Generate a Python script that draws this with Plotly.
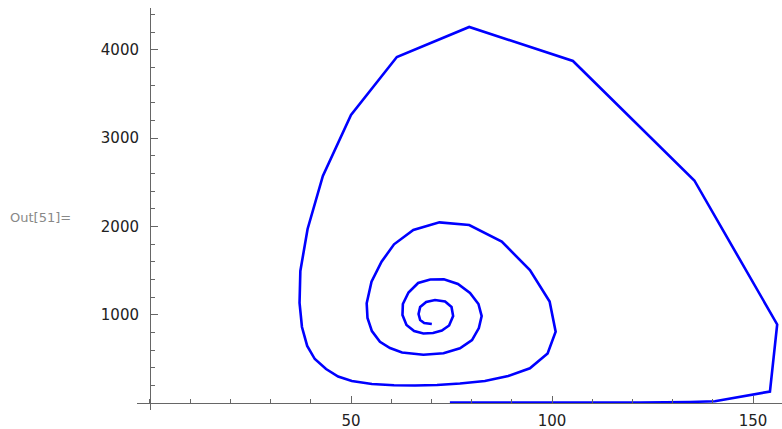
import plotly.graph_objects as go

# Trajectory (prey x, predator y), in drawing order
prey = [74.6, 87.1, 92.0, 107.0, 121.9, 134.3, 140.5, 154.2, 156.0, 135.4,
        105.2, 79.4, 61.4, 50.0, 43.0, 39.2, 37.4, 37.2, 37.8, 39.1,
        41.0, 43.8, 46.8, 50.2, 55.2, 60.7, 65.9, 71.4, 77.1, 83.3,
        89.1, 94.5, 98.9, 100.9, 99.4, 94.5, 87.5, 79.4, 72.0, 65.5,
        60.7, 57.6, 55.1, 53.9, 54.1, 55.2, 57.2, 59.7, 62.7, 68.0,
        73.0, 77.1, 80.1, 81.8, 82.5, 81.7, 79.6, 76.6, 73.1, 69.7,
        66.7, 64.3, 62.9, 62.8, 63.8, 65.7, 68.0, 70.4, 72.6, 74.4,
        75.4, 75.0, 73.4, 70.9, 68.7, 67.2, 66.8, 67.2, 68.2, 70.1]
predator = [5, 4, 4, 4, 6, 12, 20, 130, 890, 2520,
            3873, 4258, 3918, 3262, 2571, 1971, 1495, 1133, 861, 646,
            498, 385, 300, 249, 215, 202, 198, 204, 221, 249,
            306, 393, 561, 807, 1150, 1506, 1827, 2016, 2046, 1959,
            1797, 1600, 1374, 1129, 963, 815, 694, 623, 572, 546,
            563, 619, 713, 849, 985, 1121, 1246, 1348, 1401, 1399,
            1359, 1251, 1121, 997, 883, 815, 787, 793, 821, 878,
            985, 1087, 1149, 1166, 1144, 1087, 1008, 940, 906, 895]

x_ticks = [50, 100, 150]
y_ticks = [1000, 2000, 3000, 4000]

x_range = [-3.23, 157.2]
y_range = [-79, 4473]

fig = go.Figure()
fig.add_trace(go.Scatter(x=prey, y=predator, mode="lines",
                         line=dict(color="#0000ff", width=2.6),
                         hoverinfo="skip", showlegend=False))

axis_color = "#666666"
label_font = dict(family="DejaVu Sans", size=15, color="#222222")

fig.update_xaxes(range=x_range, anchor="free", automargin=False,
                 position=(0 - y_range[0]) / (y_range[1] - y_range[0]),
                 showgrid=False, zeroline=False, showline=True,
                 linecolor=axis_color, linewidth=1,
                 tickmode="array", tickvals=x_ticks,
                 ticks="inside", ticklen=7, tickwidth=1, tickcolor=axis_color,
                 tickfont=label_font, ticklabelstandoff=4,
                 minor=dict(tickmode="linear", tick0=0, dtick=10, ticks="inside",
                            ticklen=4, tickwidth=1, tickcolor=axis_color))
fig.update_yaxes(range=y_range, anchor="free", automargin=False,
                 position=(0 - x_range[0]) / (x_range[1] - x_range[0]),
                 showgrid=False, zeroline=False, showline=True,
                 linecolor=axis_color, linewidth=1,
                 tickmode="array", tickvals=y_ticks,
                 ticks="inside", ticklen=7, tickwidth=1, tickcolor=axis_color,
                 tickfont=label_font, ticklabelstandoff=8,
                 minor=dict(tickmode="linear", tick0=0, dtick=200, ticks="inside",
                            ticklen=4, tickwidth=1, tickcolor=axis_color))

fig.add_annotation(text="Out[51]=", xref="paper", yref="paper",
                   x=-129 / 645, y=0.48, xanchor="left", yanchor="middle",
                   showarrow=False,
                   font=dict(family="DejaVu Sans", size=13, color="#888888"))

fig.update_layout(width=782, height=429,
                  margin=dict(l=137, r=0, t=8, b=19),
                  paper_bgcolor="white", plot_bgcolor="white")

fig.write_html("out.html")
